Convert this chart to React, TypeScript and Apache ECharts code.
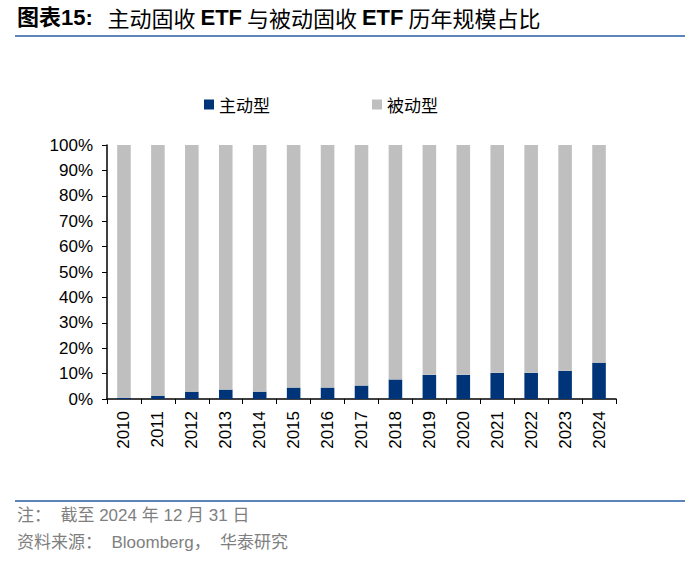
import React, { useEffect, useRef } from "react";
import * as echarts from "echarts";

const years = ["2010", "2011", "2012", "2013", "2014", "2015", "2016", "2017", "2018", "2019", "2020", "2021", "2022", "2023", "2024"];
const activeShare = [0.5, 1.3, 2.9, 3.7, 2.9, 4.5, 4.5, 5.3, 7.7, 9.5, 9.5, 10.3, 10.3, 11.1, 14.3];
const passiveShare = [99.5, 98.7, 97.1, 96.3, 97.1, 95.5, 95.5, 94.7, 92.3, 90.5, 90.5, 89.7, 89.7, 88.9, 85.7];
const seriesNames = ["主动型", "被动型"];
const titleParts = ["图表15:", "   主动固收 ", "ETF", " 与被动固收 ", "ETF", " 历年规模占比"];
const noteText = "注：  截至 2024 年 12 月 31 日";
const sourceText = "资料来源：  Bloomberg，  华泰研究";

export default function App() {
  const ref = useRef<HTMLDivElement>(null);
  useEffect(() => {
    if (!ref.current) return;
    const chart = echarts.init(ref.current, null, { renderer: "svg" });
    const font = "Arial, 'Liberation Sans', 'Noto Sans CJK SC', sans-serif";
    const styles = ["b", "n", "b", "n", "b", "n"];
    const titleRich = titleParts.map((p, i) => `{${styles[i]}|${p}}`).join("");
    chart.setOption({
      animation: false,
      backgroundColor: "#ffffff",
      textStyle: { fontFamily: font },
      graphic: [
        {
          type: "text",
          left: 17,
          top: 6,
          style: {
            text: titleRich,
            rich: {
              b: { fontSize: 22, fontWeight: "bold", fontFamily: font, fill: "#000", color: "#000" },
              n: { fontSize: 22, fontWeight: "normal", fontFamily: "'Noto Sans CJK SC', sans-serif", fill: "#000", color: "#000" },
            },
          },
        },
        {
          type: "line",
          shape: { x1: 15, y1: 36, x2: 685, y2: 36 },
          style: { stroke: "#5B84B8", lineWidth: 2 },
        },
        {
          type: "line",
          shape: { x1: 15, y1: 501, x2: 685, y2: 501 },
          style: { stroke: "#5B84B8", lineWidth: 2 },
        },
        {
          type: "text",
          left: 17,
          top: 507,
          style: { text: noteText, font: "17px Arial, 'Noto Sans CJK SC', sans-serif", fill: "#7f7f7f" },
        },
        {
          type: "text",
          left: 17,
          top: 534,
          style: { text: sourceText, font: "17px Arial, 'Noto Sans CJK SC', sans-serif", fill: "#7f7f7f" },
        },
      ],
      legend: {
        data: seriesNames,
        left: 199,
        top: 91,
        icon: "rect",
        itemWidth: 10,
        itemHeight: 10,
        itemGap: 102,
        textStyle: { fontSize: 17, color: "#000", fontFamily: "'Noto Sans CJK SC', sans-serif" },
      },
      grid: { left: 107, right: 84, top: 145, bottom: 163, containLabel: false },
      xAxis: {
        type: "category",
        data: years,
        axisLine: { lineStyle: { color: "#000", width: 1.5 } },
        axisTick: { show: true, length: 5, lineStyle: { color: "#000" } },
        axisLabel: { rotate: 90, fontSize: 17, color: "#000", margin: 12 },
      },
      yAxis: {
        type: "value",
        min: 0,
        max: 100,
        interval: 10,
        splitLine: { show: false },
        axisLine: { show: true, lineStyle: { color: "#000", width: 1.5 } },
        axisTick: { show: true, length: 5, lineStyle: { color: "#000" } },
        axisLabel: { formatter: "{value}%", fontSize: 17, color: "#000", margin: 14 },
      },
      series: [
        {
          name: seriesNames[0],
          type: "bar",
          stack: "total",
          data: activeShare,
          barWidth: "40%",
          itemStyle: { color: "#003478" },
        },
        {
          name: seriesNames[1],
          type: "bar",
          stack: "total",
          data: passiveShare,
          barWidth: "40%",
          itemStyle: { color: "#BFBFBF" },
        },
      ],
    });
    return () => chart.dispose();
  }, []);
  return <div ref={ref} style={{ position: "fixed", left: 0, top: 0, width: 700, height: 562 }} />;
}
